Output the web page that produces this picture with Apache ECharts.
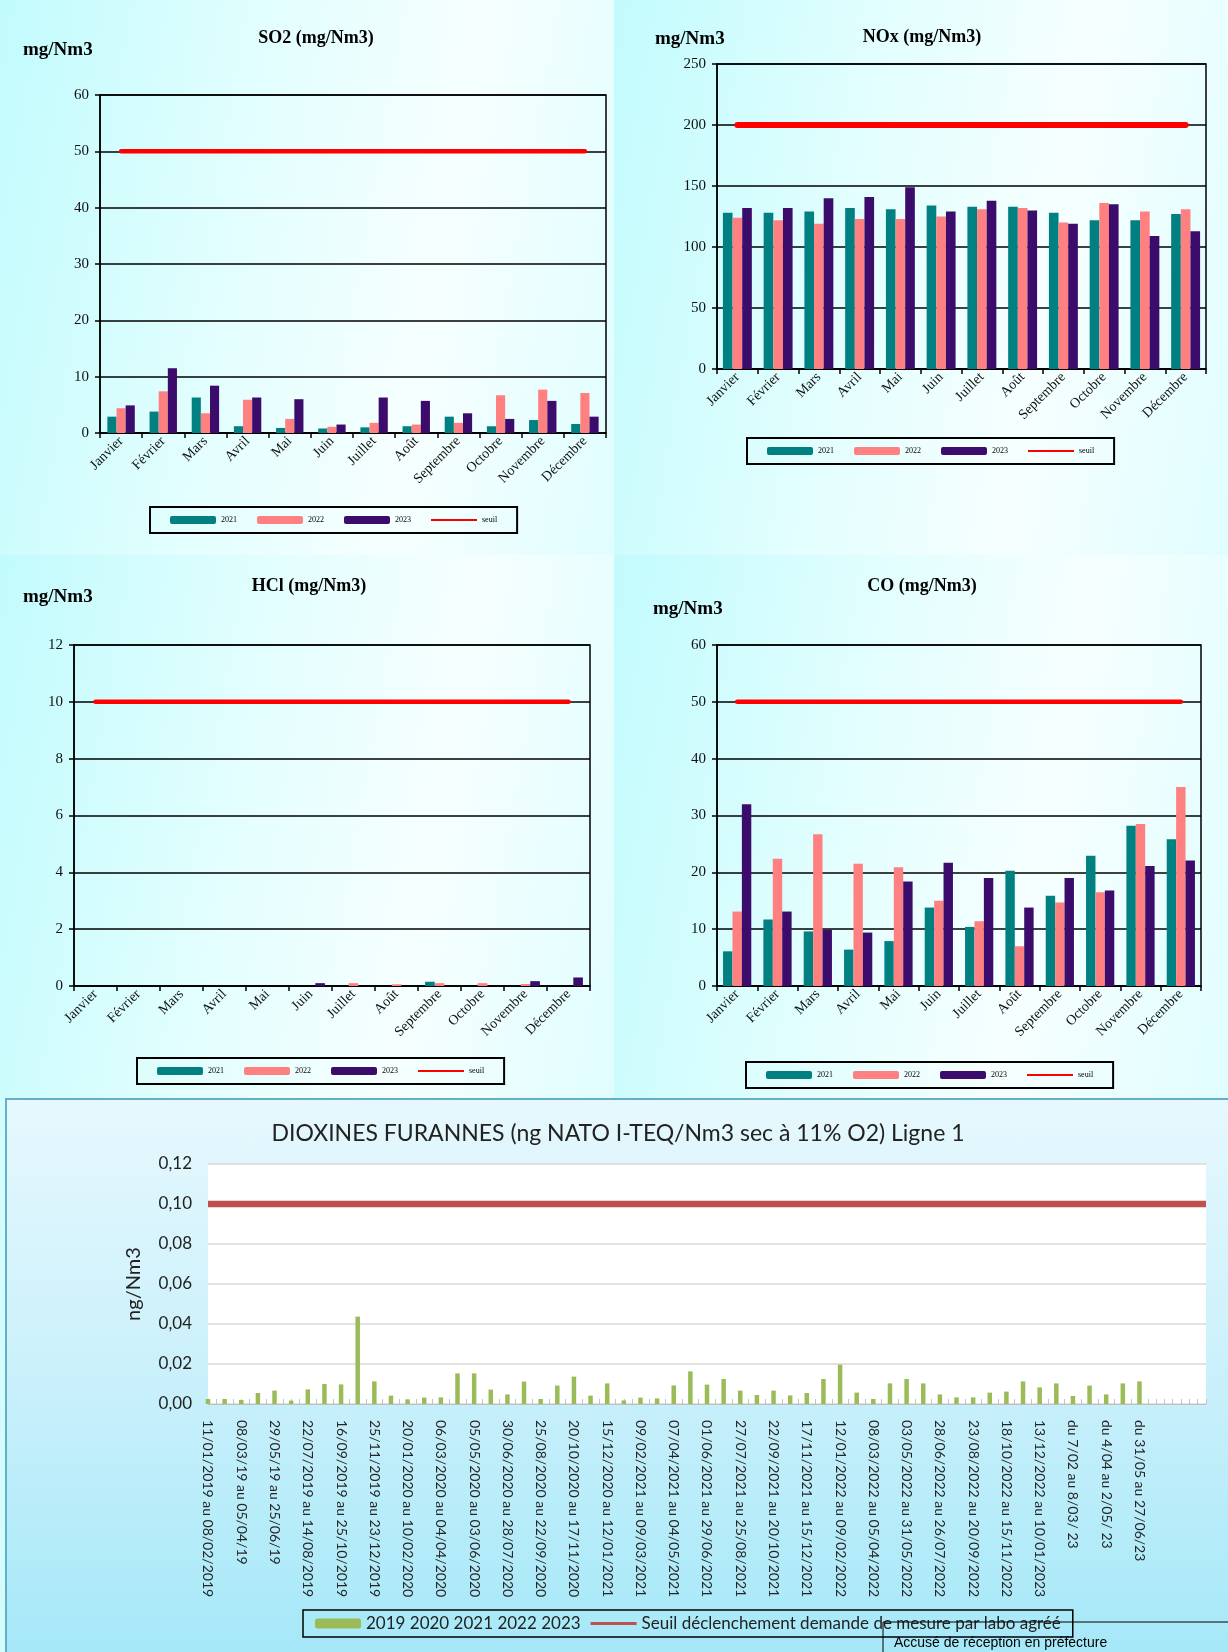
<!DOCTYPE html>
<html>
<head>
<meta charset="utf-8">
<script src="https://cdn.jsdelivr.net/npm/echarts@6/dist/echarts.min.js"></script>
<style>
html,body{margin:0;padding:0;}
body{width:1228px;height:1652px;position:relative;overflow:hidden;background:#d4fcfd;}
.panel{position:absolute;}
.top{background:linear-gradient(100deg,#c2fbfd 0%,#e2fefe 38%,#f6ffff 68%,#e0fdfe 100%);}
#so2{left:0;top:0;width:614px;height:555px;}
#nox{left:614px;top:0;width:614px;height:555px;}
#hcl{left:0;top:555px;width:614px;height:543px;}
#co{left:614px;top:555px;width:614px;height:543px;}
#dioxBg{left:5px;top:1098px;width:1223px;height:554px;box-sizing:border-box;border-top:2px solid #62b0c6;border-left:2px solid #62b0c6;background:linear-gradient(to bottom,#e6f8fd 0%,#cdf1fb 45%,#a6e8f8 100%);}
#diox{left:0;top:1098px;width:1228px;height:554px;}
</style>
</head>
<body>
<div class="panel top" id="so2"></div>
<div class="panel top" id="nox"></div>
<div class="panel top" id="hcl"></div>
<div class="panel top" id="co"></div>
<div class="panel" id="dioxBg"></div>
<div class="panel" id="diox"></div>
<script>
// ---------- DATA ----------
const months = ['Janvier','Février','Mars','Avril','Mai','Juin','Juillet','Août','Septembre','Octobre','Novembre','Décembre'];

const so2_2021 = [2.9, 3.8, 6.3, 1.2, 0.9, 0.8, 1.0, 1.2, 2.9, 1.2, 2.3, 1.6];
const so2_2022 = [4.4, 7.4, 3.5, 5.9, 2.5, 1.1, 1.8, 1.5, 1.8, 6.7, 7.7, 7.1];
const so2_2023 = [4.9, 11.5, 8.4, 6.3, 6.0, 1.5, 6.3, 5.7, 3.5, 2.5, 5.7, 2.9];
const so2_seuil = [50, 50, 50, 50, 50, 50, 50, 50, 50, 50, 50, 50];

const nox_2021 = [128, 128, 129, 132, 131, 134, 133, 133, 128, 122, 122, 127];
const nox_2022 = [124, 122, 119, 123, 123, 125, 131, 132, 120, 136, 129, 131];
const nox_2023 = [132, 132, 140, 141, 149, 129, 138, 130, 119, 135, 109, 113];
const nox_seuil = [200, 200, 200, 200, 200, 200, 200, 200, 200, 200, 200, 200];

const hcl_2021 = [0, 0, 0, 0, 0, 0, 0, 0, 0.15, 0, 0, 0];
const hcl_2022 = [0, 0, 0, 0, 0, 0, 0.1, 0.06, 0.1, 0.1, 0.07, 0];
const hcl_2023 = [0, 0, 0, 0, 0, 0.1, 0, 0, 0, 0, 0.17, 0.3];
const hcl_seuil = [10, 10, 10, 10, 10, 10, 10, 10, 10, 10, 10, 10];

const co_2021 = [6.1, 11.7, 9.6, 6.4, 7.9, 13.8, 10.4, 20.3, 15.9, 22.9, 28.2, 25.8];
const co_2022 = [13.1, 22.4, 26.7, 21.5, 20.9, 15.0, 11.4, 7.0, 14.7, 16.5, 28.5, 35.0];
const co_2023 = [32.0, 13.1, 9.9, 9.4, 18.4, 21.7, 19.0, 13.8, 19.0, 16.8, 21.1, 22.1];
const co_seuil = [50, 50, 50, 50, 50, 50, 50, 50, 50, 50, 50, 50];

// Dioxines: one bar per campaign, a label shown on every other campaign
const dioxLabels = [
  '11/01/2019 au 08/02/2019', '08/03/19 au 05/04/19', '29/05/19 au 25/06/19',
  '22/07/2019 au 14/08/2019', '16/09/2019 au 25/10/2019', '25/11/2019 au 23/12/2019',
  '20/01/2020 au 10/02/2020', '06/03/2020 au 04/04/2020', '05/05/2020 au 03/06/2020',
  '30/06/2020 au 28/07/2020', '25/08/2020 au 22/09/2020', '20/10/2020 au 17/11/2020',
  '15/12/2020 au 12/01/2021', '09/02/2021 au 09/03/2021', '07/04/2021 au 04/05/2021',
  '01/06/2021 au 29/06/2021', '27/07/2021 au 25/08/2021', '22/09/2021 au 20/10/2021',
  '17/11/2021 au 15/12/2021', '12/01/2022 au 09/02/2022', '08/03/2022 au 05/04/2022',
  '03/05/2022 au 31/05/2022', '28/06/2022 au 26/07/2022', '23/08/2022 au 20/09/2022',
  '18/10/2022 au 15/11/2022', '13/12/2022 au 10/01/2023', 'du 7/02 au 8/03/ 23',
  'du 4/04 au 2/05/ 23', 'du 31/05 au 27/06/23'
];
const dioxValues = [
  0.0025, 0.0025, 0.0020, 0.0055, 0.0067, 0.0017, 0.0073, 0.0100, 0.0098, 0.0437,
  0.0113, 0.0042, 0.0023, 0.0032, 0.0033, 0.0153, 0.0153, 0.0072, 0.0048, 0.0112,
  0.0025, 0.0092, 0.0137, 0.0042, 0.0103, 0.0018, 0.0032, 0.0028, 0.0093, 0.0163,
  0.0097, 0.0125, 0.0067, 0.0045, 0.0067, 0.0043, 0.0055, 0.0125, 0.0197, 0.0057,
  0.0025, 0.0103, 0.0125, 0.0103, 0.0048, 0.0033, 0.0033, 0.0057, 0.0062, 0.0113,
  0.0083, 0.0103, 0.0040, 0.0092, 0.0048, 0.0103, 0.0113
];
const dioxSlots = 61;          // campaign slots on the axis (last ones empty)
const dioxSeuil = 0.10;
const dioxYTicks = [0, 0.12, 0.02];

// ---------- TOP CHARTS ----------
const serif = 'Liberation Serif';
function monthChart(id, c) {
  const chart = echarts.init(document.getElementById(id), null, {renderer: 'canvas'});
  const boldText = {fontFamily: serif, fontWeight: 'bold', fill: '#000'};
  chart.setOption({
    animation: false,
    graphic: [
      {type: 'text', x: c.tx, y: c.ty, style: Object.assign({text: c.title, fontSize: 18, align: 'center', textAlign: 'center', verticalAlign: 'middle', textVerticalAlign: 'middle'}, boldText)},
      {type: 'text', x: c.ux, y: c.uy, style: Object.assign({text: 'mg/Nm3', fontSize: 19, align: 'left', textAlign: 'left', verticalAlign: 'middle', textVerticalAlign: 'middle'}, boldText)}
    ],
    grid: {left: c.gl, top: c.gt, width: c.gw, height: c.gh, show: true, borderColor: '#000', borderWidth: 1.5, backgroundColor: 'transparent'},
    xAxis: {
      type: 'category', data: months, boundaryGap: true,
      axisLine: {lineStyle: {color: '#000', width: 1.5}},
      axisTick: {show: true, length: 5, interval: 0, lineStyle: {color: '#000', width: 1.5}},
      axisLabel: {interval: 0, rotate: 45, fontFamily: serif, fontSize: 14, color: '#111', margin: 6}
    },
    yAxis: {
      type: 'value', min: 0, max: c.max, interval: c.step,
      axisLine: {show: true, lineStyle: {color: '#000', width: 1.5}},
      axisTick: {show: true, length: 5, lineStyle: {color: '#000', width: 1.5}},
      axisLabel: {fontFamily: serif, fontSize: 15, color: '#111', margin: 11},
      splitLine: {lineStyle: {color: '#000', width: 1.5}}
    },
    legend: {
      left: c.lx, top: c.ly, orient: 'horizontal',
      itemWidth: 46, itemHeight: 8, itemGap: 20, padding: [9, 20],
      borderColor: '#000', borderWidth: 2, backgroundColor: 'transparent',
      textStyle: {fontFamily: serif, fontSize: 8, color: '#000'},
      itemStyle: {borderWidth: 0},
      data: ['2021', '2022', '2023', {name: 'seuil', icon: 'path://M0,0 L0,0 M0,3 L46,3 L46,5 L0,5 Z M46,8 L46,8'}]
    },
    series: [
      {name: '2021', type: 'bar', data: c.d21, itemStyle: {color: '#008080'}, barGap: '0%', barCategoryGap: c.gap},
      {name: '2022', type: 'bar', data: c.d22, itemStyle: {color: '#ff8080'}, barGap: '0%', barCategoryGap: c.gap},
      {name: '2023', type: 'bar', data: c.d23, itemStyle: {color: '#3b0c6c'}, barGap: '0%', barCategoryGap: c.gap},
      {name: 'seuil', type: 'line', data: c.seuil, symbol: 'none', z: 5,
       lineStyle: {color: '#ff0000', width: c.lw, cap: 'round'}, itemStyle: {color: '#ff0000'}}
    ]
  });
}

monthChart('so2', {title: 'SO2 (mg/Nm3)', tx: 316, ty: 38, ux: 23, uy: 50,
  gl: 100, gt: 95, gw: 506, gh: 338, max: 60, step: 10, lx: 150, ly: 507, gap: '35%', lw: 4.5,
  d21: so2_2021, d22: so2_2022, d23: so2_2023, seuil: so2_seuil});
monthChart('nox', {title: 'NOx (mg/Nm3)', tx: 308, ty: 37, ux: 41, uy: 39,
  gl: 103, gt: 64, gw: 489, gh: 305, max: 250, step: 50, lx: 133, ly: 438, gap: '29%', lw: 6,
  d21: nox_2021, d22: nox_2022, d23: nox_2023, seuil: nox_seuil});
monthChart('hcl', {title: 'HCl (mg/Nm3)', tx: 309, ty: 31, ux: 23, uy: 42,
  gl: 74, gt: 90, gw: 516, gh: 341, max: 12, step: 2, lx: 137, ly: 503, gap: '33%', lw: 4.5,
  d21: hcl_2021, d22: hcl_2022, d23: hcl_2023, seuil: hcl_seuil});
monthChart('co', {title: 'CO (mg/Nm3)', tx: 308, ty: 31, ux: 39, uy: 54,
  gl: 103, gt: 90, gw: 484, gh: 341, max: 60, step: 10, lx: 132, ly: 507, gap: '30%', lw: 4.5,
  d21: co_2021, d22: co_2022, d23: co_2023, seuil: co_seuil});

// ---------- DIOXINES ----------
const dioxCats = [];
for (let i = 0; i < dioxSlots; i++) {
  dioxCats.push(i % 2 === 0 && i / 2 < dioxLabels.length ? dioxLabels[i / 2] : '');
}
const dioxData = dioxCats.map((_, i) => i < dioxValues.length ? dioxValues[i] : null);
const sans = 'Lato';
const dchart = echarts.init(document.getElementById('diox'), null, {renderer: 'canvas'});
dchart.setOption({
  animation: false,
  graphic: [
    {type: 'text', x: 618, y: 36, z: 10, style: {text: 'DIOXINES FURANNES (ng NATO I-TEQ/Nm3 sec à 11% O2) Ligne 1',
      align: 'center', textAlign: 'center', verticalAlign: 'middle', textVerticalAlign: 'middle',
      fontFamily: sans, fontSize: 23, fill: '#222'}},
    {type: 'rect', z: 100, shape: {x: 883, y: 524, width: 400, height: 60},
      style: {fill: 'none', stroke: '#000', lineWidth: 1}},
    {type: 'text', x: 894, y: 545, z: 100, style: {text: 'Accusé de réception en préfecture',
      align: 'left', textAlign: 'left', verticalAlign: 'middle', textVerticalAlign: 'middle',
      fontFamily: 'Liberation Sans', fontSize: 14, fill: '#000'}}
  ],
  grid: {left: 208, top: 66, right: 22, bottom: 248, show: true, backgroundColor: '#ffffff', borderWidth: 0},
  xAxis: [
    {type: 'category', data: dioxCats, boundaryGap: false,
     axisLine: {lineStyle: {color: '#bfbfbf', width: 1}},
     axisTick: {show: false},
     axisLabel: {interval: 0, rotate: -90, margin: 16, fontFamily: sans, fontSize: 14, color: '#262626'}},
    {type: 'value', min: 0, max: dioxSlots - 1, interval: 0.5, position: 'bottom',
     axisLine: {show: false}, axisLabel: {show: false}, splitLine: {show: false},
     axisTick: {show: true, inside: true, length: 5, lineStyle: {color: '#c4c4c4', width: 1}}}
  ],
  yAxis: {
    type: 'value', min: dioxYTicks[0], max: dioxYTicks[1], interval: dioxYTicks[2],
    name: 'ng/Nm3', nameLocation: 'middle', nameGap: 64,
    nameTextStyle: {fontFamily: sans, fontSize: 20, color: '#222'},
    axisLine: {show: false}, axisTick: {show: false},
    axisLabel: {formatter: v => v.toFixed(2).replace('.', ','), fontFamily: sans, fontSize: 17, color: '#222', margin: 16},
    splitLine: {lineStyle: {color: '#d9d9d9', width: 1.5}}
  },
  legend: {
    left: 303, top: 512, orient: 'horizontal',
    itemWidth: 46, itemHeight: 10, itemGap: 10, padding: [5, 12],
    borderColor: '#000', borderWidth: 1.5, backgroundColor: 'transparent',
    textStyle: {fontFamily: sans, fontSize: 17, color: '#222'},
    itemStyle: {borderWidth: 0},
    data: ['2019 2020 2021 2022 2023',
      {name: 'Seuil déclenchement demande de mesure par labo agréé', icon: 'path://M0,0 L0,0 M0,3.5 L46,3.5 L46,6.5 L0,6.5 Z M46,10 L46,10'}]
  },
  series: [
    {name: '2019 2020 2021 2022 2023', type: 'bar', xAxisIndex: 0, data: dioxData, barWidth: 4.5, clip: false,
     itemStyle: {color: '#9bbb59'}},
    {name: 'Seuil déclenchement demande de mesure par labo agréé', type: 'line', xAxisIndex: 0,
     data: [[0, dioxSeuil], [dioxSlots - 1, dioxSeuil]], symbol: 'none', z: 3,
     lineStyle: {color: '#c0504d', width: 6.5}, itemStyle: {color: '#c0504d'}}
  ]
});
</script>
</body>
</html>
